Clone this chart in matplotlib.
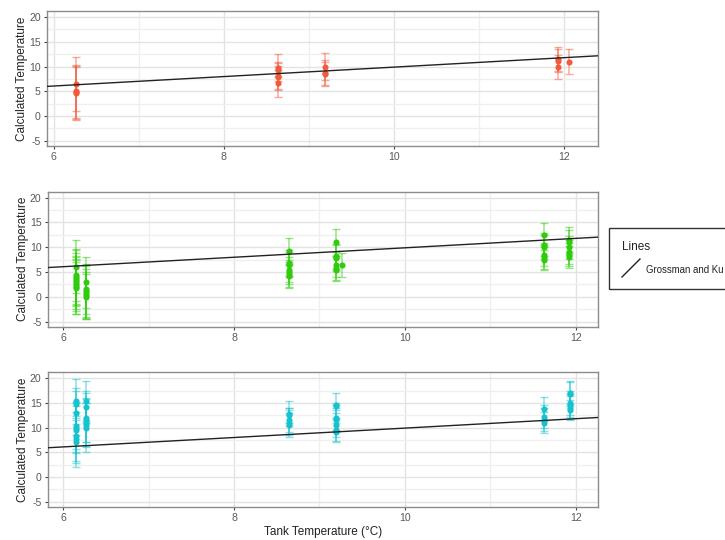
import matplotlib.pyplot as plt
from matplotlib.lines import Line2D
from matplotlib.patches import Rectangle
from matplotlib.ticker import MultipleLocator

plt.rcParams['font.family'] = ['Liberation Sans', 'DejaVu Sans']
plt.rcParams['axes.unicode_minus'] = False

# top panel (red)
red_x = [6.26, 6.26, 6.26, 6.26, 8.64, 8.64, 8.64, 8.64, 8.64,
         9.19, 9.19, 9.19, 11.93, 11.93, 11.93, 12.06]
red_y = [6.5, 5.0, 4.8, 4.6, 9.8, 9.4, 8.0, 7.8, 6.6,
         10.0, 8.8, 8.5, 11.5, 11.2, 9.9, 11.0]
red_err = [5.4, 5.4, 5.4, 5.4, 2.7, 1.5, 2.8, 2.4, 2.7,
           2.7, 2.6, 2.5, 2.4, 2.3, 2.4, 2.45]

# middle panel (green)
green_x = [6.15] * 9 + [6.27] * 6 + [8.64] * 7 + [9.19] * 6 + [9.27] + [11.63] * 6 + [11.92] * 6
green_y = [6.1, 4.4, 4.0, 3.6, 3.2, 2.8, 2.4, 2.0, 1.8,
           2.9, 1.6, 1.1, 0.7, 0.3, 0.0,
           9.3, 6.8, 6.5, 5.5, 5.0, 4.5, 4.1,
           11.0, 8.2, 7.9, 6.5, 5.8, 5.5,
           6.4,
           12.5, 10.5, 10.0, 8.5, 8.0, 7.5,
           11.5, 11.0, 10.0, 9.0, 8.5, 8.0]
green_err = [5.3, 5.3, 5.5, 5.3, 5.0, 5.3, 5.2, 5.4, 5.3,
             5.2, 5.0, 5.2, 5.0, 4.8, 4.5,
             2.6, 2.6, 2.5, 2.6, 2.5, 2.6, 2.4,
             2.7, 2.5, 2.6, 2.6, 2.5, 2.4,
             2.45,
             2.4, 2.3, 2.4, 2.3, 2.4, 2.0,
             2.5, 2.4, 2.3, 2.4, 2.3, 2.2]

# bottom panel (cyan)
cyan_x = [6.15] * 9 + [6.27] * 7 + [8.64] * 5 + [9.19] * 7 + [11.63] * 4 + [11.93] * 6
cyan_y = [15.3, 14.8, 13.0, 10.4, 10.0, 9.6, 8.2, 7.6, 7.0,
          15.4, 14.2, 12.0, 11.5, 11.0, 10.5, 10.0,
          12.8, 12.5, 11.5, 11.0, 10.5,
          14.5, 14.3, 12.0, 11.5, 10.5, 9.5, 9.0,
          13.7, 12.2, 11.6, 11.0,
          17.1, 16.8, 15.0, 14.5, 14.0, 13.5]
cyan_err = [4.6, 3.2, 4.5, 4.8, 5.0, 4.8, 5.0, 4.8, 5.0,
            4.1, 3.2, 5.0, 4.5, 4.8, 4.5, 5.0,
            2.5, 1.5, 2.5, 2.6, 2.5,
            2.5, 0.7, 2.5, 2.4, 2.5, 2.2, 2.0,
            2.45, 2.3, 2.4, 2.2,
            2.4, 2.5, 2.4, 2.4, 2.3, 2.0]

# Grossman and Ku line
line_x = [5.8, 12.5]
line_y = [5.88, 12.27]

fig = plt.figure(figsize=(7.25, 5.40), dpi=100)

panels = [
    ([0.0648, 0.7296, 0.760, 0.25], (5.92, 12.40), red_x, red_y, red_err, '#F25A3C'),
    ([0.0658, 0.3950, 0.759, 0.25], (5.82, 12.26), green_x, green_y, green_err, '#2ECC0A'),
    ([0.0658, 0.0617, 0.759, 0.249], (5.82, 12.26), cyan_x, cyan_y, cyan_err, '#15C3D0'),
]

axes = []
for pos, xlim, xs, ys, errs, col in panels:
    ax = fig.add_axes(pos)
    ax.set_xlim(*xlim)
    ax.set_ylim(-6.05, 21.22)
    ax.xaxis.set_major_locator(MultipleLocator(2))
    ax.xaxis.set_minor_locator(MultipleLocator(1))
    ax.yaxis.set_major_locator(MultipleLocator(5))
    ax.yaxis.set_minor_locator(MultipleLocator(2.5))
    ax.grid(which='major', color='#E3E3E3', lw=1.0, zorder=0)
    ax.grid(which='minor', color='#EFEFEF', lw=0.9, zorder=0)
    ax.set_axisbelow(True)
    for sp in ax.spines.values():
        sp.set_color('#8C8C8C')
        sp.set_linewidth(1.0)
    ax.tick_params(which='major', length=2.5, width=0.8, color='#444444',
                   labelsize=7.6, labelcolor='#5A5A5A', pad=2)
    ax.tick_params(which='minor', length=0)

    ax.errorbar(xs, ys, yerr=errs, fmt='none', ecolor=col, alpha=0.5,
                elinewidth=1.1, capsize=3, capthick=1.0, zorder=2)
    ax.plot(xs, ys, 'o', color=col, ms=4.4, mec='none', zorder=3)
    ax.plot(line_x, line_y, color='#222222', lw=1.0, zorder=4)

    ax.set_ylabel('Calculated Temperature', fontsize=8.5, color='#222222')
    ax.yaxis.set_label_coords(-0.034, 0.5)
    axes.append(ax)

axes[-1].set_xlabel('Tank Temperature (°C)', fontsize=8.5, color='#222222', labelpad=2)

# legend box drawn by hand
fig.add_artist(Rectangle((609 / 725, 1 - 289 / 540), 120 / 725, 61 / 540,
                         transform=fig.transFigure, fill=False,
                         edgecolor='#333333', lw=1.0, clip_on=False))
fig.text(622 / 725, 1 - 247 / 540, 'Lines', fontsize=8.5, color='#222222',
         va='center', ha='left')
fig.add_artist(Line2D([622 / 725, 640 / 725], [1 - 277 / 540, 1 - 259 / 540],
                      transform=fig.transFigure, color='#222222', lw=1.0))
fig.text(646 / 725, 1 - 270 / 540, 'Grossman and Ku', fontsize=6.9, color='#222222',
         va='center', ha='left')

plt.savefig('out.png', dpi=100)
